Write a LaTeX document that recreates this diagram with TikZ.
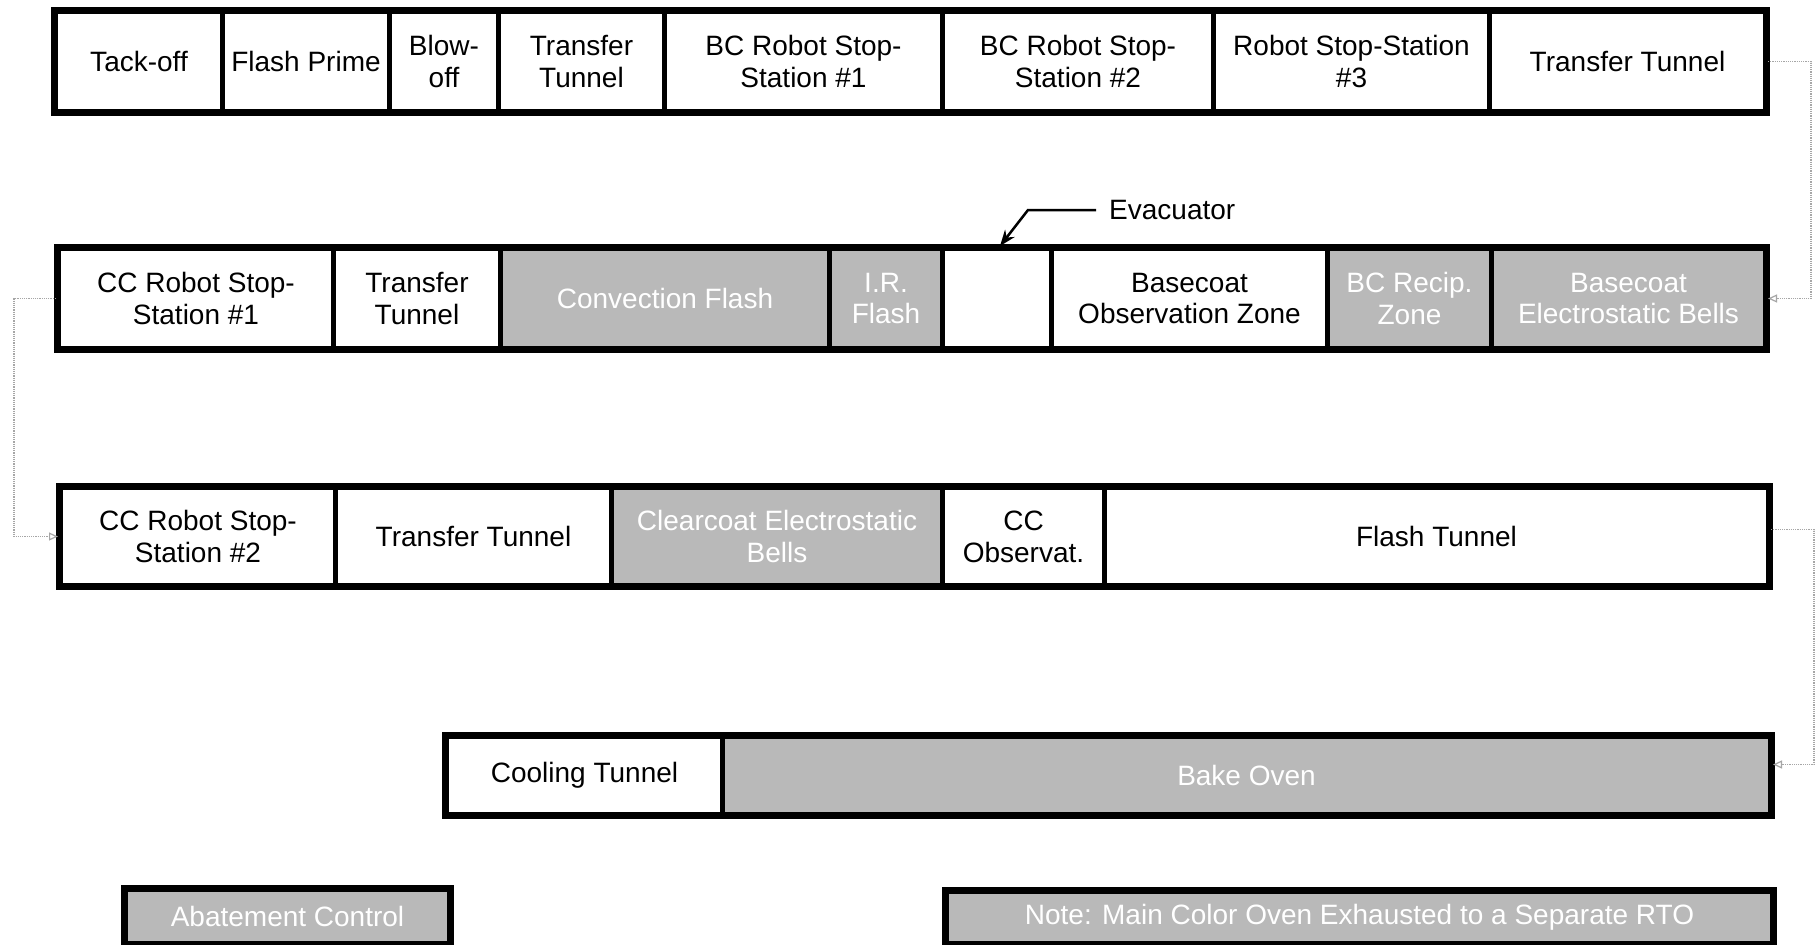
\documentclass[tikz,border=0pt]{standalone}
\usepackage{fontspec}
\setmainfont{Liberation Sans}
\usetikzlibrary{arrows.meta}
\tikzset{
  cell/.style={draw=black, line width=5pt, inner sep=0pt, align=center,
    font=\fontsize{28}{32}\selectfont, anchor=north west},
  whitecell/.style={cell, fill=white, text=black},
  greycell/.style={cell, fill=gray!55, text=white},
  frame/.style={draw=black, line width=7pt},
  conn/.style={draw=gray!70, line width=1.2pt, densely dotted, -{Triangle[open, length=9pt, width=8pt]}},
  evarrow/.style={draw=black, line width=2.5pt, -{Stealth[length=16pt, width=12pt]}},
  lbl/.style={font=\fontsize{28}{32}\selectfont, anchor=west, inner sep=3pt}
}
\begin{document}
\begin{tikzpicture}[x=1pt, y=-1pt]
\useasboundingbox (0,0) rectangle (1816,945);
\fill[white] (0,0) rectangle (1816,945);

% Row 1
\node[whitecell, minimum width=167pt, minimum height=100pt] (a1) at (53,9) {Tack-off};
\node[whitecell, minimum width=167pt, minimum height=100pt] (a2) at (220,9) {Flash Prime};
\node[whitecell, minimum width=109pt, minimum height=100pt] (a3) at (387,9) {Blow-\\off};
\node[whitecell, minimum width=166pt, minimum height=100pt] (a4) at (496,9) {Transfer\\Tunnel};
\node[whitecell, minimum width=278pt, minimum height=100pt] (a5) at (662,9) {BC Robot Stop-\\Station \#1};
\node[whitecell, minimum width=271pt, minimum height=100pt] (a6) at (940,9) {BC Robot Stop-\\Station \#2};
\node[whitecell, minimum width=276pt, minimum height=100pt] (a7) at (1211,9) {Robot Stop-Station\\\#3};
\node[whitecell, minimum width=276pt, minimum height=100pt] (a8) at (1487,9) {Transfer Tunnel};
\draw[frame] ([shift={(1.5,1.5)}]a1.north west) rectangle ([shift={(-1.5,-1.5)}]a8.south east);

% Row 2
\node[whitecell, minimum width=275pt, minimum height=100pt] (b1) at (56,246) {CC Robot Stop-\\Station \#1};
\node[whitecell, minimum width=167pt, minimum height=100pt] (b2) at (331,246) {Transfer\\Tunnel};
\node[greycell, minimum width=329pt, minimum height=100pt] (b3) at (498,246) {Convection Flash};
\node[greycell, minimum width=113pt, minimum height=100pt] (b4) at (827,246) {I.R.\\Flash};
\node[whitecell, minimum width=109pt, minimum height=100pt] (b5) at (940,246) {};
\node[whitecell, minimum width=276pt, minimum height=100pt] (b6) at (1049,246) {Basecoat\\Observation Zone};
\node[greycell, minimum width=164pt, minimum height=100pt] (b7) at (1325,246) {BC Recip.\\Zone};
\node[greycell, minimum width=274pt, minimum height=100pt] (b8) at (1489,246) {Basecoat\\Electrostatic Bells};
\draw[frame] ([shift={(1.5,1.5)}]b1.north west) rectangle ([shift={(-1.5,-1.5)}]b8.south east);

% Evacuator
\node[lbl] (evac) at (1106,210) {Evacuator};
\draw[evarrow] ([xshift=-10pt]evac.west) -- ++(-68,0) -- ([xshift=3pt]b5.north);

% Row 3
\node[whitecell, minimum width=275pt, minimum height=98pt] (c1) at (58,485) {CC Robot Stop-\\Station \#2};
\node[whitecell, minimum width=276pt, minimum height=98pt] (c2) at (333,485) {Transfer Tunnel};
\node[greycell, minimum width=331pt, minimum height=98pt] (c3) at (609,485) {Clearcoat Electrostatic\\Bells};
\node[whitecell, minimum width=162pt, minimum height=98pt] (c4) at (940,485) {CC\\Observat.};
\node[whitecell, minimum width=664pt, minimum height=98pt] (c5) at (1102,485) {Flash Tunnel};
\draw[frame] ([shift={(1.5,1.5)}]c1.north west) rectangle ([shift={(-1.5,-1.5)}]c5.south east);

% Row 4
\node[whitecell, minimum width=276pt, minimum height=78pt] (d1) at (444,734) {Cooling Tunnel};
\node[greycell, minimum width=1048pt, minimum height=78pt] (d2) at (720,734) {Bake Oven};
\draw[frame] ([shift={(1.5,1.5)}]d1.north west) rectangle ([shift={(-1.5,-1.5)}]d2.south east);

% Bottom boxes
\node[greycell, minimum width=326pt, minimum height=56pt, line width=7pt] (e1) at (121,885) {Abatement Control};
\node[greycell, minimum width=828pt, minimum height=54pt, line width=7pt] (e2) at (942,887) {Note: Main Color Oven Exhausted to a Separate RTO};

% Connectors
\draw[conn] (a8.east) -- ++(43,0) |- (b8.east);
\draw[conn] (b1.west) -- ++(-42,0) |- (c1.west);
\draw[conn] ([yshift=7pt]c5.east) -- ++(43,0) |- ([yshift=11pt]d2.east);
\end{tikzpicture}
\end{document}
